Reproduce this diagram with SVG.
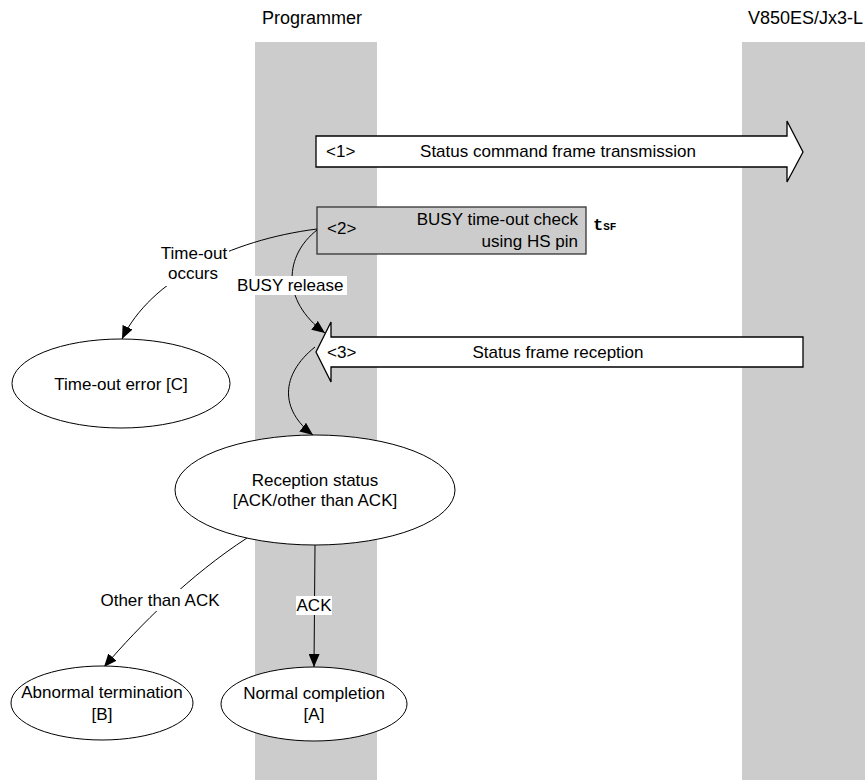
<svg xmlns="http://www.w3.org/2000/svg" width="865" height="782" viewBox="0 0 865 782">
<defs>
<style>
text{font-family:"Liberation Sans",Arial,sans-serif;font-size:17px;fill:#000}
.t{font-size:18px}
.m{text-anchor:middle}
.e{text-anchor:end}
.lane{fill:#cccccc}
.node{fill:#fff;stroke:#000;stroke-width:1}
.blk{fill:#fff;stroke:#000;stroke-width:1.3}
.con{fill:none;stroke:#000;stroke-width:1}
.lbg{fill:#fff}
.mono{font-family:"Liberation Mono","Courier New",monospace;font-weight:bold}
</style>
<marker id="ah" viewBox="0 0 13 11" refX="13" refY="5.5" markerWidth="13" markerHeight="11" markerUnits="userSpaceOnUse" orient="auto">
<path d="M0,0 L13,5.5 L0,11 Z" fill="#000"/>
</marker>
</defs>
<rect width="865" height="782" fill="#fff"/>
<g id="lanes">
<rect class="lane" x="255" y="42" width="122" height="738"/>
<rect class="lane" x="742" y="42" width="123" height="738"/>
<text class="t m" x="312" y="24">Programmer</text>
<text class="t e" x="863" y="24">V850ES/Jx3-L</text>
</g>
<g id="step1">
<polygon class="blk" points="316,136 787,136 787,121 803,152 787,182 787,167 316,167"/>
<text x="326" y="157">&lt;1&gt;</text>
<text class="m" x="558" y="157">Status command frame transmission</text>
</g>
<g id="step2">
<rect x="317" y="207" width="269" height="47" fill="#cccccc" stroke="#333" stroke-width="1.3"/>
<text x="327" y="234">&lt;2&gt;</text>
<text class="e" x="578" y="225">BUSY time-out check</text>
<text class="e" x="578" y="247">using HS pin</text>
<text class="mono" x="593" y="230" style="font-size:17px">t<tspan style="font-size:11px">SF</tspan></text>
</g>
<g id="step3">
<polygon class="blk" points="316,352 331,322 331,337 803,337 803,367 331,367 331,382"/>
<text x="327" y="358">&lt;3&gt;</text>
<text class="m" x="558" y="358">Status frame reception</text>
</g>
<g id="connectors">
<path class="con" d="M317,229 C230,240 150,280 122,339" marker-end="url(#ah)"/>
<path class="con" d="M317,230 C285,255 280,300 325,333" marker-end="url(#ah)"/>
<path class="con" d="M315,347 C280,375 280,410 313,435" marker-end="url(#ah)"/>
<path class="con" d="M315,545 L314,667" marker-end="url(#ah)"/>
<path class="con" d="M247,538 C190,575 140,625 104,667" marker-end="url(#ah)"/>
<rect class="lbg" x="160" y="244" width="69" height="42"/>
<text class="m" x="194" y="259">Time-out</text>
<text class="m" x="193" y="279">occurs</text>
<rect class="lbg" x="236" y="276" width="111" height="19"/>
<text x="237" y="291">BUSY release</text>
<rect class="lbg" x="296" y="596" width="36" height="19"/>
<text class="m" x="314" y="611">ACK</text>
<rect class="lbg" x="97" y="589" width="127" height="22"/>
<text class="m" x="160" y="606">Other than ACK</text>
</g>
<g id="timeout-error">
<ellipse class="node" cx="121" cy="383.5" rx="109" ry="44.5"/>
<text class="m" x="121" y="390">Time-out error [C]</text>
</g>
<g id="reception-status">
<ellipse class="node" cx="315" cy="490" rx="140" ry="55"/>
<text class="m" x="315" y="486">Reception status</text>
<text class="m" x="315" y="506">[ACK/other than ACK]</text>
</g>
<g id="abnormal">
<ellipse class="node" cx="102" cy="703" rx="91" ry="37"/>
<text class="m" x="102" y="698">Abnormal termination</text>
<text class="m" x="102" y="720">[B]</text>
</g>
<g id="normal">
<ellipse class="node" cx="314" cy="704" rx="93" ry="37"/>
<text class="m" x="314" y="699">Normal completion</text>
<text class="m" x="314" y="720">[A]</text>
</g>
</svg>
